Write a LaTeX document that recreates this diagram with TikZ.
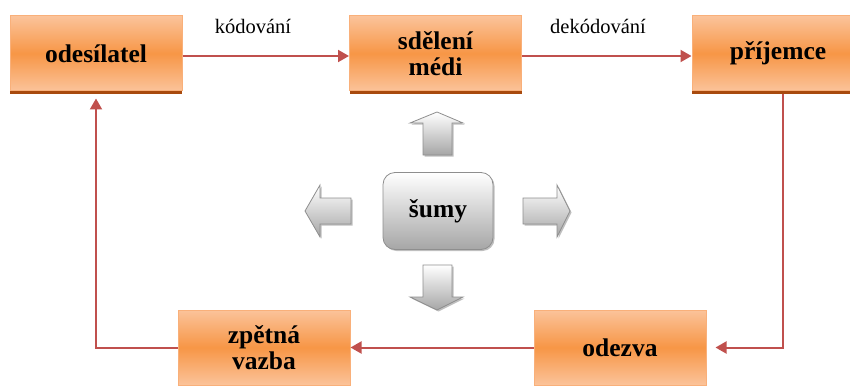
\documentclass[tikz,border=0pt]{standalone}
\usepackage{fontspec}
\setmainfont{Liberation Serif}
\usetikzlibrary{arrows.meta,shadows}
\definecolor{ln}{HTML}{C0504D}
\definecolor{orA}{HTML}{FBC39A}
\definecolor{orB}{HTML}{F79646}
\definecolor{orE}{HTML}{F9B07A}
\definecolor{shd}{HTML}{A84A0E}
\definecolor{grD}{HTML}{A6A6A6}
\definecolor{grE}{HTML}{8E8E8E}
\tikzset{
  obox/.style={rectangle, draw=orE, line width=1pt, top color=orA, bottom color=orA, middle color=orB,
    minimum width=172pt, minimum height=75pt, inner sep=0pt,
    font=\fontsize{25.5}{25.5}\selectfont\bfseries, align=center},
  tshadow/.style={drop shadow={shadow xshift=0pt, shadow yshift=-3pt, fill=shd, opacity=1}},
  conn/.style={draw=ln, line width=2pt, -{Triangle[length=11pt,width=12pt]}},
  lbl/.style={font=\fontsize{20.5}{20}\selectfont, inner sep=0pt},
  garrow/.style={draw=grE, line width=0.8pt, top color=white, bottom color=grD,
    drop shadow={shadow xshift=1.5pt, shadow yshift=-1.5pt, fill=black, opacity=0.25}},
}
\begin{document}
\begin{tikzpicture}[x=1pt,y=-1pt]
\useasboundingbox (0,0) rectangle (850,385);
\clip (0,0) rectangle (850,385);
% boxes
\node[obox, tshadow] (odes) at (96,53.5) {odesílatel};
\node[obox, tshadow] (sdel) at (435.5,53.5) {sdělení\\médi};
\node[obox, tshadow] (prij) at (778,53.5) {příjemce};
\node[obox] (zv) at (264,347.5) {zpětná\\vazba};
\node[obox] (odez) at (620,347.5) {odezva};
% labels
\node[lbl] (kod) at (253,26) {kódování};
\node[lbl] (dek) at (598,26) {dekódování};
% noise box
\node[rectangle, rounded corners=12pt, draw=grE, line width=0.8pt, top color=white, bottom color=grD,
  minimum width=110pt, minimum height=77pt, inner sep=0pt,
  font=\fontsize{25.5}{25.5}\selectfont\bfseries,
  drop shadow={shadow xshift=1.5pt, shadow yshift=-1.5pt, fill=black, opacity=0.25}] (sum) at (438,211) {šumy};
% gray arrows
\path[garrow] (423,155) -- (423,123) -- (410,123) -- (437,112) -- (463,123) -- (452,123) -- (452,155) -- cycle;
\path[garrow] (351,198) -- (320,198) -- (320,185) -- (305,211) -- (320,237) -- (320,224) -- (351,224) -- cycle;
\path[garrow] (523,198) -- (557,198) -- (557,185) -- (570,211) -- (557,237) -- (557,224) -- (523,224) -- cycle;
\path[garrow] (423,265) -- (452,265) -- (452,297) -- (463,297) -- (437,310) -- (410,297) -- (423,297) -- cycle;
% connectors
\draw[conn] ([yshift=-2.5pt]odes.east) -- ([yshift=-2.5pt]sdel.west);
\draw[conn] ([yshift=-2.5pt]sdel.east) -- ([yshift=-2.5pt]prij.west);
\draw[conn, shorten >=9pt] ([xshift=5pt,yshift=-3pt]prij.south) |- (odez.east);
\draw[conn] (odez.west) -- (zv.east);
\draw[conn, shorten >=7pt] (zv.west) -| (odes.south);
\end{tikzpicture}
\end{document}
